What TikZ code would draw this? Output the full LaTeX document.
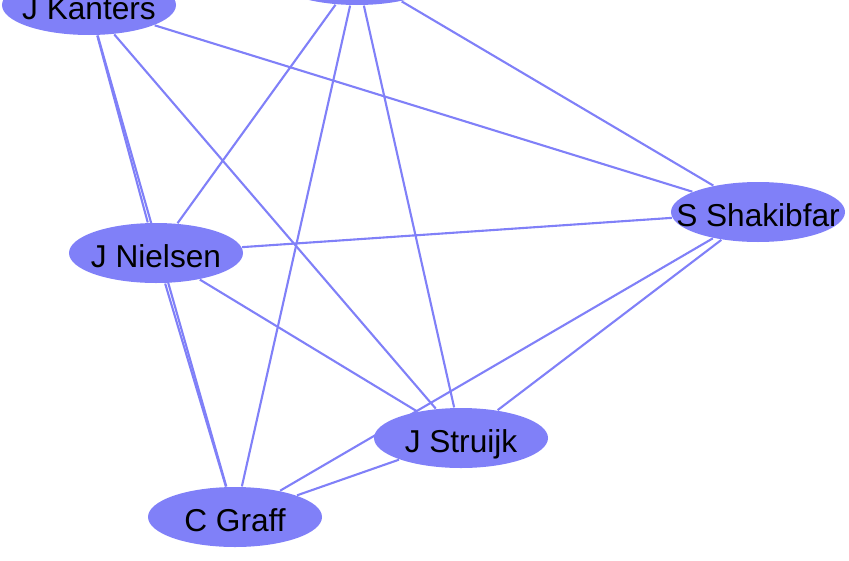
\documentclass[tikz,border=0pt]{standalone}
\usepackage{fontspec}
\setmainfont{Liberation Sans}
\usetikzlibrary{shapes.geometric,backgrounds}
\definecolor{nodeblue}{RGB}{128,128,248}

\begin{document}
\begin{tikzpicture}[x=1cm,y=-1cm,
	person/.style={ellipse,fill=nodeblue,minimum width=1.74cm,minimum height=0.6cm,inner sep=0pt,
		text height=8.2pt,text depth=0pt,font=\fontsize{9}{11}\selectfont},
	link/.style={nodeblue,line width=0.6pt}]
	\useasboundingbox (0,0) rectangle (8.49,5.6);

	\node[person] (top) at (3.57,-0.25) {};
	\node[person] (kanters) at (0.89,0.05) {\makebox[0pt]{J Kanters}};
	\node[person] (shakibfar) at (7.58,2.12) {\makebox[0pt]{S Shakibfar}};
	\node[person] (nielsen) at (1.56,2.53) {\makebox[0pt]{J Nielsen}};
	\node[person] (struijk) at (4.61,4.38) {\makebox[0pt]{J Struijk}};
	\node[person] (graff) at (2.35,5.17) {\makebox[0pt]{C Graff}};

	\begin{scope}[on background layer]
	\draw[link] (top) -- (nielsen);
	\draw[link] (top) -- (graff);
	\draw[link] (top) -- (struijk);
	\draw[link] (top) -- (shakibfar);
	\draw[link] (kanters) -- (shakibfar);
	\draw[link] (kanters) -- (struijk);
	\draw[link] (kanters) -- (nielsen);
	\draw[link] (kanters) -- (graff);
	\draw[link] (nielsen) -- (shakibfar);
	\draw[link] (nielsen) -- (struijk);
	\draw[link] (nielsen) -- (graff);
	\draw[link] (shakibfar) -- (struijk);
	\draw[link] (shakibfar) -- (graff);
	\draw[link] (struijk) -- (graff);
	\end{scope}
\end{tikzpicture}
\end{document}
